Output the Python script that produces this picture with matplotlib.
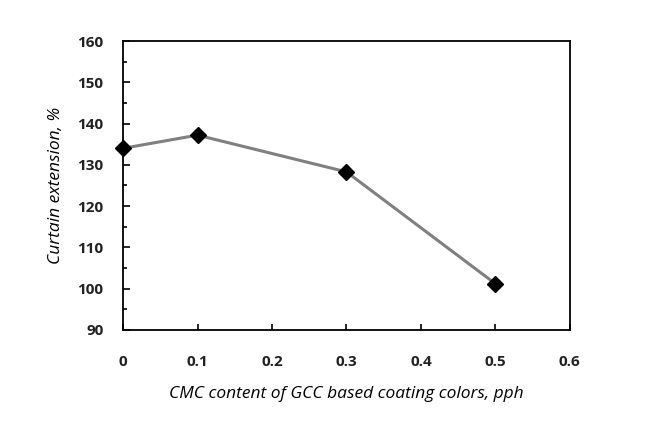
import matplotlib
matplotlib.use("Agg")
import matplotlib.pyplot as plt
from matplotlib.ticker import MultipleLocator, FuncFormatter

# CMC content vs curtain extension
cmc = [0, 0.1, 0.3, 0.5]
extension = [134, 137.2, 128.3, 101.2]

plt.rcParams['font.family'] = ['Open Sans', 'DejaVu Sans']

fig = plt.figure(figsize=(6.58, 4.23), dpi=100)
ax = fig.add_axes([0.187, 0.22, 0.679, 0.683])

ax.plot(cmc, extension, color="#808080", linewidth=2.2, zorder=2)
ax.plot(cmc, extension, linestyle="none", marker="D", markersize=8,
        color="black", zorder=3, clip_on=False)

ax.set_xlim(0, 0.6)
ax.set_ylim(90, 160)
ax.xaxis.set_major_locator(MultipleLocator(0.1))
ax.xaxis.set_major_formatter(FuncFormatter(lambda v, p: "0" if abs(v) < 1e-9 else f"{v:.1f}"))
ax.yaxis.set_major_locator(MultipleLocator(10))
ax.yaxis.set_minor_locator(MultipleLocator(5))

ax.tick_params(axis="x", direction="in", length=4, width=1.2, pad=18,
               labelsize=11)
ax.tick_params(axis="y", which="major", direction="in", length=5, width=1.2,
               pad=14, labelsize=11)
ax.tick_params(axis="y", which="minor", direction="in", length=3, width=1.2)
for lbl in ax.get_xticklabels() + ax.get_yticklabels():
    lbl.set_fontweight("bold")
    lbl.set_color("#222222")

for s in ax.spines.values():
    s.set_linewidth(1.3)

ax.set_xlabel("CMC content of GCC based coating colors, pph",
              fontstyle="italic", fontsize=12.5, labelpad=12)
ax.set_ylabel("Curtain extension, %", fontstyle="italic", fontsize=12.5,
              labelpad=10)

fig.savefig("out.png", dpi=100)
